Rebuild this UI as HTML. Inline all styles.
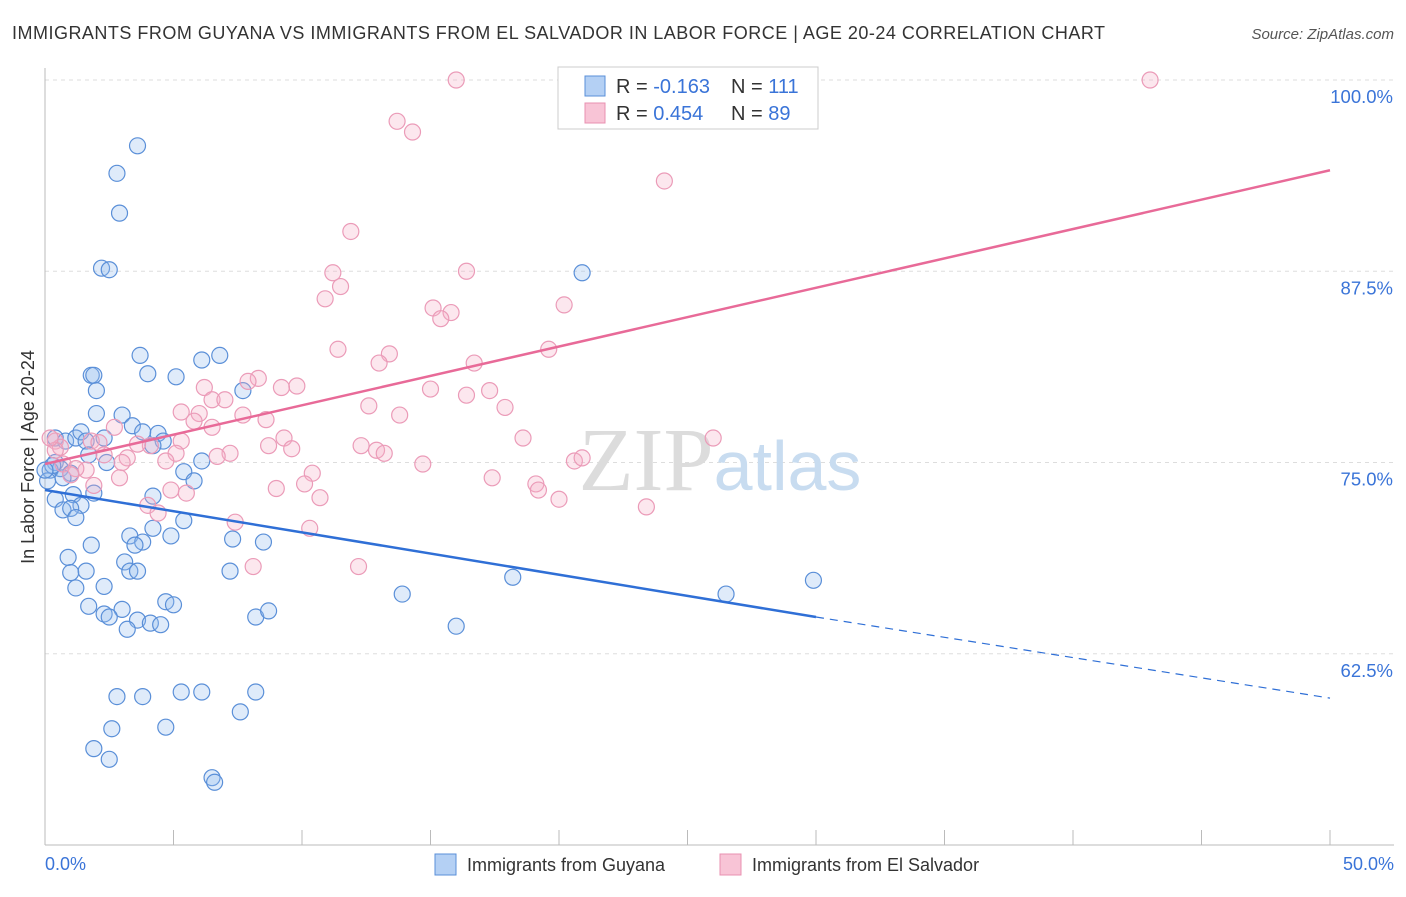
<!DOCTYPE html>
<html><head><meta charset="utf-8"><style>
body{margin:0;background:#fff;font-family:"Liberation Sans",sans-serif;}
svg text{font-family:"Liberation Sans",sans-serif;}
</style></head><body>
<svg width="1406" height="892" viewBox="0 0 1406 892" xmlns="http://www.w3.org/2000/svg">
<text x="12" y="39" font-size="18" fill="#333" textLength="1093" lengthAdjust="spacing">IMMIGRANTS FROM GUYANA VS IMMIGRANTS FROM EL SALVADOR IN LABOR FORCE | AGE 20-24 CORRELATION CHART</text>
<text x="1394" y="39" font-size="15" fill="#555" text-anchor="end" font-style="italic">Source: ZipAtlas.com</text>
<g id="grid"></g>
<g id="axes"></g>
<text x="720" y="490" font-size="90" fill="#d8d8d8" text-anchor="middle" font-family="Liberation Serif"><tspan fill="#dcdcdc" font-family="Liberation Serif">ZIP</tspan><tspan fill="#c8dcf0" font-size="70" font-family="Liberation Sans">atlas</tspan></text>
<g id="marks"></g>
<g id="lines"></g>
<g>
<rect x="558" y="67" width="260" height="62" fill="#fff" stroke="#ccc"/>
<rect x="585" y="76" width="20" height="20" fill="#b4d0f4" stroke="#5a8fd8"/>
<rect x="585" y="103" width="20" height="20" fill="#f8c4d6" stroke="#e890b0"/>
<text x="616" y="93" font-size="20" fill="#333">R = <tspan fill="#3a74d8">-0.163</tspan></text>
<text x="731" y="93" font-size="20" fill="#333">N = <tspan fill="#3a74d8">111</tspan></text>
<text x="616" y="120" font-size="20" fill="#333">R = <tspan fill="#3a74d8"> 0.454</tspan></text>
<text x="731" y="120" font-size="20" fill="#333">N = <tspan fill="#3a74d8">89</tspan></text>
</g>
<text x="34" y="457" font-size="18" fill="#333" text-anchor="middle" transform="rotate(-90 34 457)">In Labor Force | Age 20-24</text>
<g>
<rect x="435" y="854" width="21" height="21" fill="#b4d0f4" stroke="#5a8fd8"/>
<text x="467" y="871" font-size="18" fill="#333">Immigrants from Guyana</text>
<rect x="720" y="854" width="21" height="21" fill="#f8c4d6" stroke="#e890b0"/>
<text x="752" y="871" font-size="18" fill="#333">Immigrants from El Salvador</text>
</g>
</svg>
<script>
const yTicks=[100,87.5,75,62.5];
const yTickLabels=["100.0%","87.5%","75.0%","62.5%"];
const xTickLabels=["0.0%","50.0%"];
const guyanaX=[3.6,2.8,2.9,2.2,2.5,20.9,3.7,1.8,1.9,4.0,5.1,6.1,6.8,7.7,2.0,2.0,3.0,3.4,4.4,0.4,0.8,1.2,1.4,1.6,2.3,3.8,4.6,4.2,1.7,2.4,0.4,0.6,0.2,1.0,5.4,6.1,5.8,1.9,1.1,0.4,4.2,1.4,0.7,1.0,1.2,5.4,4.2,3.3,4.9,3.8,3.5,7.3,8.5,1.8,0.9,3.1,1.0,1.6,3.3,3.6,7.2,18.2,1.2,2.3,13.9,1.7,4.7,5.0,3.0,2.3,2.5,3.6,8.2,8.7,4.1,4.5,3.2,16.0,26.5,29.9,2.8,3.8,5.3,6.1,8.2,7.6,2.6,4.7,1.9,2.5,6.5,6.6,0.1,0.3,0.7,0.0];
const guyanaY=[95.7,93.9,91.3,87.7,87.6,87.4,82.0,80.7,80.7,80.8,80.6,81.7,82.0,79.7,79.7,78.2,78.1,77.4,76.9,76.6,76.4,76.6,77.0,76.4,76.6,77.0,76.4,76.1,75.5,75.0,75.0,74.6,74.5,74.3,74.4,75.1,73.8,73.0,72.9,72.6,72.8,72.2,71.9,72.0,71.4,71.2,70.7,70.2,70.2,69.8,69.6,70.0,69.8,69.6,68.8,68.5,67.8,67.9,67.9,67.9,67.9,67.5,66.8,66.9,66.4,65.6,65.9,65.7,65.4,65.1,64.9,64.7,64.9,65.3,64.5,64.4,64.1,64.3,66.4,67.3,59.7,59.7,60.0,60.0,60.0,58.7,57.6,57.7,56.3,55.6,54.4,54.1,73.8,74.8,74.0,74.5];
const salvX=[16.0,43.0,13.7,14.3,24.1,11.9,11.2,16.4,11.5,10.9,15.1,15.8,15.4,20.2,11.4,13.4,13.0,19.6,16.7,8.3,7.9,6.2,9.2,9.8,15.0,6.5,7.0,17.3,16.4,12.6,17.9,13.8,5.3,6.0,7.7,8.6,5.8,6.5,2.7,9.3,8.7,9.6,18.6,26.0,12.3,12.9,13.2,5.3,4.1,3.6,1.8,2.1,0.4,0.6,2.3,3.2,5.1,7.2,6.7,4.7,3.0,0.7,1.6,1.2,2.9,1.9,10.4,10.1,14.7,20.6,20.9,17.4,19.1,19.2,20.0,9.0,4.9,5.5,10.7,4.0,4.4,7.4,10.3,23.4,8.1,12.2,0.4,0.2,1.0];
const salvY=[100.0,100.0,97.3,96.6,93.4,90.1,87.4,87.5,86.5,85.7,85.1,84.8,84.4,85.3,82.4,82.1,81.5,82.4,81.5,80.5,80.3,79.9,79.9,80.0,79.8,79.1,79.1,79.7,79.4,78.7,78.6,78.1,78.3,78.2,78.1,77.8,77.7,77.3,77.3,76.6,76.1,75.9,76.6,76.6,76.1,75.8,75.6,76.4,76.1,76.2,76.4,76.3,76.4,76.0,75.5,75.3,75.6,75.6,75.4,75.1,75.0,74.9,74.5,74.6,74.0,73.5,74.3,73.6,74.9,75.1,75.3,74.0,73.6,73.2,72.6,73.3,73.2,73.0,72.7,72.2,71.7,71.1,70.7,72.1,68.2,68.2,75.8,76.6,74.2];
const guyanaTrendX=[0,30,50];
const guyanaTrendY=[73.2,64.9,59.6];
const salvTrendX=[0,50];
const salvTrendY=[74.9,94.1];

const NS="http://www.w3.org/2000/svg";
const xs=v=>45+v*(1330-45)/50;
const ys=v=>80+(100-v)*15.3;
function mk(tag,attrs,parent){const e=document.createElementNS(NS,tag);for(const k in attrs)e.setAttribute(k,attrs[k]);parent.appendChild(e);return e;}
const grid=document.getElementById('grid'),axes=document.getElementById('axes'),marks=document.getElementById('marks'),lines=document.getElementById('lines');
yTicks.forEach((t,i)=>{
 const l=mk('line',{x1:45,x2:1394,y1:ys(t),y2:ys(t),stroke:'#ddd','stroke-dasharray':'4,4'},grid);
 
 
 const tx=mk('text',{x:1393,y:ys(t)+23,'font-size':18.5,fill:'#3a74d8','text-anchor':'end'},axes);
 tx.textContent=yTickLabels[i];
 
 
});
const tl=mk('line',{x1:45,x2:1394,y1:ys(100),y2:ys(100),stroke:'#ddd','stroke-dasharray':'4,4'},grid);


const ya=mk('line',{x1:45,x2:45,y1:68,y2:845,stroke:'#bbb'},axes);


const xa=mk('line',{x1:45,x2:1394,y1:845,y2:845,stroke:'#bbb'},axes);


for(let i=0;i<=10;i++){
 const t=mk('line',{x1:xs(i*5),x2:xs(i*5),y1:830,y2:845,stroke:'#bbb'},axes);
 
 
}
[[0,'start',45],[50,'end',1394]].forEach((d,i)=>{
 const tx=mk('text',{x:d[2],y:870,'font-size':18,fill:'#3a74d8','text-anchor':d[1]},axes);
 tx.textContent=xTickLabels[i];
 
 
});
guyanaX.forEach((v,i)=>{
 const c=mk('circle',{cx:xs(v),cy:ys(guyanaY[i]),r:8,fill:'rgba(150,190,240,0.3)',stroke:'#5a8fd8','stroke-width':1.2},marks);
 
 
});
salvX.forEach((v,i)=>{
 const c=mk('circle',{cx:xs(v),cy:ys(salvY[i]),r:8,fill:'rgba(245,175,200,0.3)',stroke:'#eb9bb8','stroke-width':1.2},marks);
 
 
});
const b1=mk('line',{x1:xs(guyanaTrendX[0]),y1:ys(guyanaTrendY[0]),x2:xs(guyanaTrendX[1]),y2:ys(guyanaTrendY[1]),stroke:'#2f6fd6','stroke-width':2.5},lines);


const b2=mk('line',{x1:xs(guyanaTrendX[1]),y1:ys(guyanaTrendY[1]),x2:xs(guyanaTrendX[2]),y2:ys(guyanaTrendY[2]),stroke:'#2f6fd6','stroke-width':1.2,'stroke-dasharray':'8,6'},lines);


const p1=mk('line',{x1:xs(salvTrendX[0]),y1:ys(salvTrendY[0]),x2:xs(salvTrendX[1]),y2:ys(salvTrendY[1]),stroke:'#e86a98','stroke-width':2.5},lines);


</script>
</body></html>
